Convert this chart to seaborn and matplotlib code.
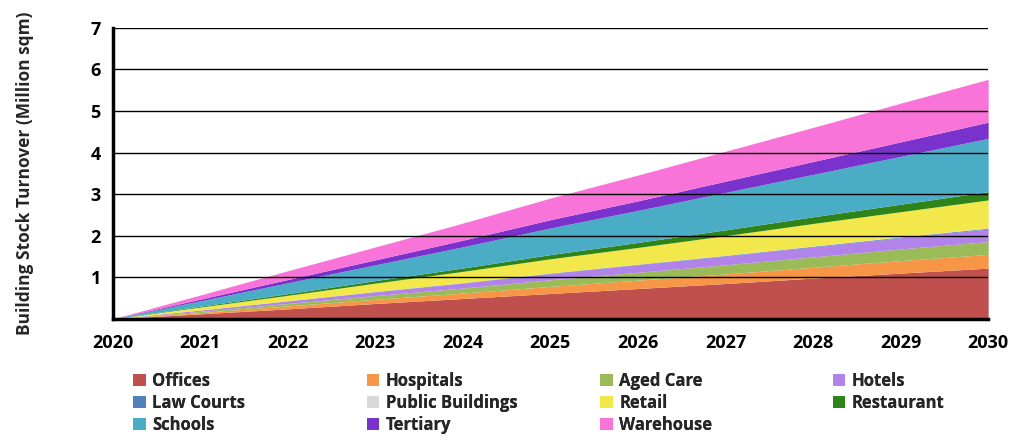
import pandas as pd
import matplotlib
matplotlib.use("Agg")
import matplotlib.pyplot as plt
import seaborn as sns
from matplotlib.patches import Patch

# --- dados (Million sqm por ano) ---
anos = [2020, 2021, 2022, 2023, 2024, 2025, 2026, 2027, 2028, 2029, 2030]

offices = [0, 0.12, 0.24, 0.37, 0.49, 0.61, 0.73, 0.85, 0.98, 1.10, 1.22]
hospitals = [0, 0.03, 0.07, 0.10, 0.13, 0.17, 0.20, 0.23, 0.26, 0.30, 0.33]
aged_care = [0, 0.03, 0.06, 0.09, 0.12, 0.16, 0.19, 0.22, 0.25, 0.28, 0.31]
hotels = [0, 0.03, 0.06, 0.09, 0.12, 0.15, 0.18, 0.21, 0.24, 0.27, 0.30]
law_courts = [0, 0.002, 0.004, 0.006, 0.008, 0.01, 0.012, 0.014, 0.016, 0.018, 0.02]
public_buildings = [0, 0.001, 0.002, 0.003, 0.004, 0.005, 0.006, 0.007, 0.008, 0.009, 0.01]
retail = [0, 0.07, 0.13, 0.20, 0.27, 0.34, 0.40, 0.47, 0.54, 0.60, 0.67]
restaurant = [0, 0.02, 0.04, 0.06, 0.08, 0.10, 0.12, 0.14, 0.16, 0.18, 0.20]
schools = [0, 0.13, 0.26, 0.38, 0.51, 0.64, 0.77, 0.90, 1.02, 1.15, 1.28]
tertiary = [0, 0.04, 0.08, 0.12, 0.16, 0.20, 0.23, 0.27, 0.31, 0.35, 0.39]
warehouse = [0, 0.10, 0.21, 0.31, 0.41, 0.52, 0.62, 0.72, 0.82, 0.93, 1.03]

categorias = ["Offices", "Hospitals", "Aged Care", "Hotels", "Law Courts",
              "Public Buildings", "Retail", "Restaurant", "Schools",
              "Tertiary", "Warehouse"]
cores = ["#C0504D", "#F79646", "#9BBB59", "#B283E8", "#4F81BD",
         "#D9D9D9", "#F2E84B", "#2E8418", "#4BACC6", "#7A32CC", "#F874D8"]

df = pd.DataFrame({
    "Offices": offices, "Hospitals": hospitals, "Aged Care": aged_care,
    "Hotels": hotels, "Law Courts": law_courts,
    "Public Buildings": public_buildings, "Retail": retail,
    "Restaurant": restaurant, "Schools": schools, "Tertiary": tertiary,
    "Warehouse": warehouse,
}, index=anos)

sns.set_theme(style="white")
plt.rcParams["font.family"] = ["Open Sans", "DejaVu Sans"]

fig = plt.figure(figsize=(10.24, 4.41), dpi=100)
ax = fig.add_axes([0.110, 0.277, 0.855, 0.66])

ax.stackplot(df.index, [df[c] for c in categorias], colors=cores,
             labels=categorias, linewidth=0)

ax.set_xlim(2020, 2030)
ax.set_ylim(0, 7)
ax.set_xticks(anos)
ax.set_yticks(range(0, 8))
ax.set_yticklabels([""] + [str(i) for i in range(1, 8)])
ax.yaxis.grid(True, color="black", linewidth=1)
ax.set_axisbelow(False)
for lado in ["top", "right"]:
    ax.spines[lado].set_visible(False)
for lado in ["left", "bottom"]:
    ax.spines[lado].set_linewidth(2.5)
    ax.spines[lado].set_color("black")
ax.tick_params(axis="both", direction="out", length=5, width=2.5,
               colors="black", labelsize=13)
ax.tick_params(axis="x", pad=6)
for t in ax.get_xticklabels() + ax.get_yticklabels():
    t.set_fontweight("bold")

ax.set_ylabel("Building Stock Turnover (Million sqm)", fontsize=12.5,
              fontweight="bold", labelpad=41)

# legenda: 4 colunas posicionadas manualmente, preenchidas por linha
colunas = [["Offices", "Law Courts", "Schools"],
           ["Hospitals", "Public Buildings", "Tertiary"],
           ["Aged Care", "Retail", "Warehouse"],
           ["Hotels", "Restaurant"]]
x_colunas = [0.130, 0.358, 0.586, 0.813]
mapa_cor = dict(zip(categorias, cores))
for nomes, x0 in zip(colunas, x_colunas):
    handles = [Patch(facecolor=mapa_cor[c], edgecolor="none", label=c) for c in nomes]
    leg = fig.legend(handles=handles, loc="upper left", bbox_to_anchor=(x0, 0.156),
                     ncol=1, frameon=False, handlelength=0.75,
                     handleheight=0.75, handletextpad=0.4,
                     labelspacing=0.24, borderaxespad=0, borderpad=0,
                     prop={"weight": "bold", "size": 12})
    fig.add_artist(leg)

fig.savefig("out.png", dpi=100)
